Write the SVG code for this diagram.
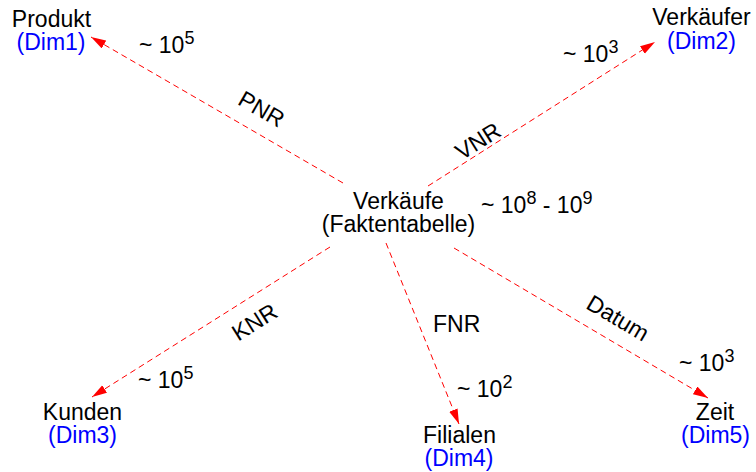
<svg xmlns="http://www.w3.org/2000/svg" width="756" height="472" viewBox="0 0 756 472">
<style>
text{font-family:"Liberation Sans",Arial,sans-serif;font-size:23px;fill:#000}
.n{text-anchor:middle}
.dim{fill:#0000ff}
.sup{font-size:18px}
.edge{stroke:#ff0000;stroke-width:1;stroke-dasharray:6 4;fill:none}
</style>
<defs>
<marker id="ah" markerUnits="userSpaceOnUse" markerWidth="16" markerHeight="10" refX="15" refY="4.5" orient="auto" viewBox="0 0 16 10">
<path d="M0,0 L15,4.5 L0,9 z" fill="#ff0000"/>
</marker>
</defs>
<rect width="756" height="472" fill="#fff"/>
<g id="connectors">
<line class="edge" x1="343" y1="183" x2="91" y2="37" marker-end="url(#ah)"/>
<line class="edge" x1="428" y1="186" x2="655" y2="42" marker-end="url(#ah)"/>
<line class="edge" x1="330" y1="247" x2="92" y2="397" marker-end="url(#ah)"/>
<line class="edge" x1="386" y1="243" x2="459" y2="424" marker-end="url(#ah)"/>
<line class="edge" x1="454" y1="248" x2="708" y2="398" marker-end="url(#ah)"/>
<text transform="translate(261.5,109) rotate(30)" class="n" y="8">PNR</text>
<text transform="translate(478,141) rotate(-32.4)" class="n" y="8">VNR</text>
<text transform="translate(254.5,322) rotate(-32.2)" class="n" y="8">KNR</text>
<text x="433" y="332">FNR</text>
<text transform="translate(618,318) rotate(30.6)" class="n" y="8">Datum</text>
<text x="139" y="53">~ 10<tspan class="sup" dy="-9">5</tspan></text>
<text x="563" y="62">~ 10<tspan class="sup" dy="-9">3</tspan></text>
<text x="138" y="388">~ 10<tspan class="sup" dy="-9">5</tspan></text>
<text x="457" y="397">~ 10<tspan class="sup" dy="-9">2</tspan></text>
<text x="679" y="371">~ 10<tspan class="sup" dy="-9">3</tspan></text>
<text x="481" y="213">~ 10<tspan class="sup" dy="-9">8</tspan><tspan dy="9"> - 10</tspan><tspan class="sup" dy="-9">9</tspan></text>
</g>
<g id="fakt">
<text class="n" x="398.5" y="209">Verkäufe</text>
<text class="n" x="398.5" y="232">(Faktentabelle)</text>
</g>
<g id="dim1">
<text class="n" x="51.5" y="27">Produkt</text>
<text class="n dim" x="51" y="50">(Dim1)</text>
</g>
<g id="dim2">
<text class="n" x="701.5" y="25">Verkäufer</text>
<text class="n dim" x="701.5" y="49">(Dim2)</text>
</g>
<g id="dim3">
<text class="n" x="82.5" y="420">Kunden</text>
<text class="n dim" x="82.5" y="443">(Dim3)</text>
</g>
<g id="dim4">
<text class="n" x="459.5" y="443">Filialen</text>
<text class="n dim" x="459" y="466">(Dim4)</text>
</g>
<g id="dim5">
<text class="n" x="715" y="420">Zeit</text>
<text class="n dim" x="715.5" y="443">(Dim5)</text>
</g>
</svg>
